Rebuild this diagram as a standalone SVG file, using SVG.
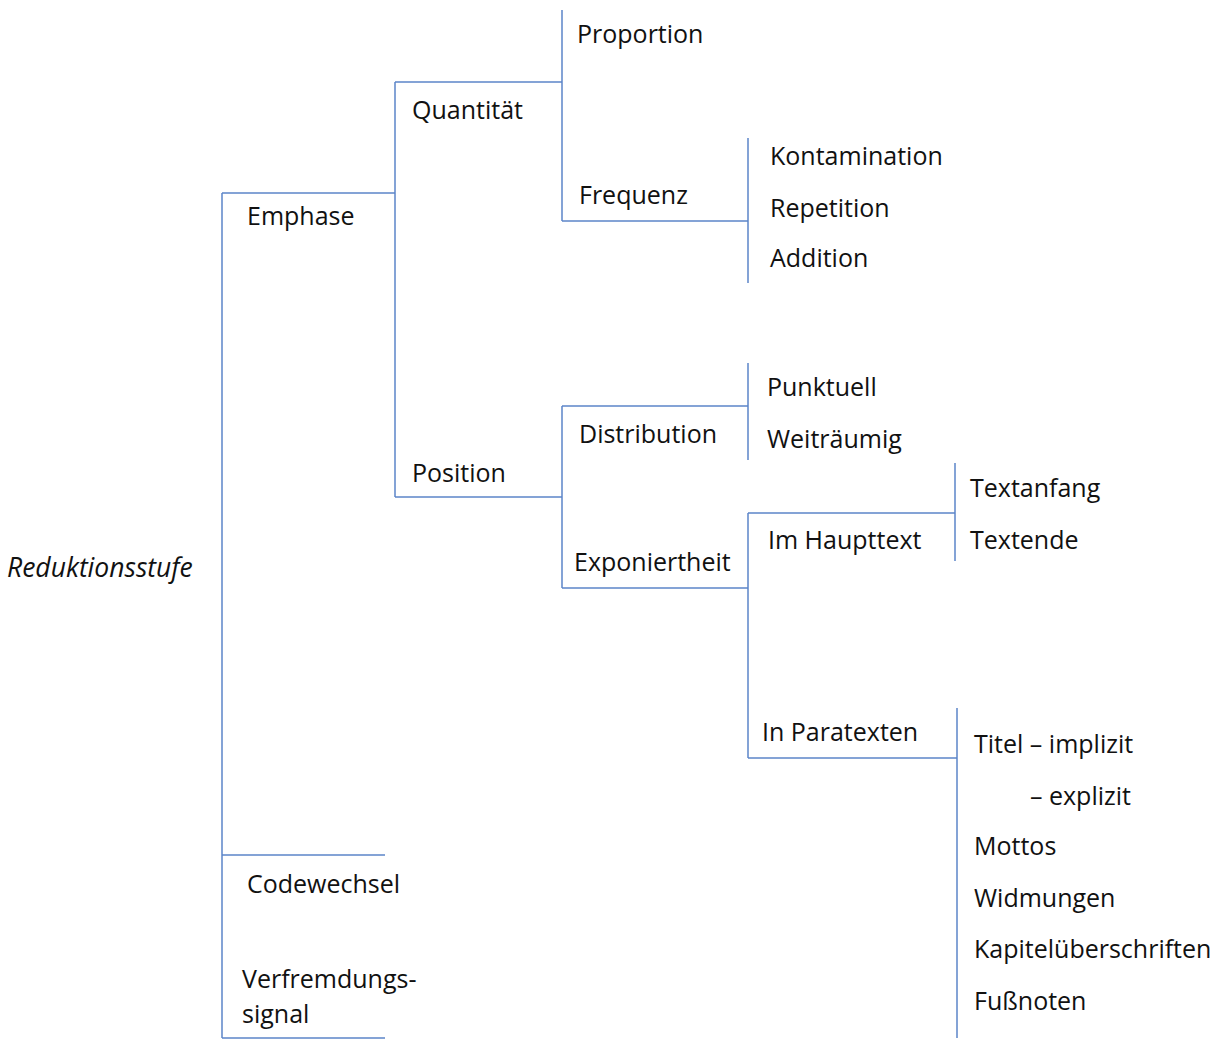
<svg xmlns="http://www.w3.org/2000/svg" width="1225" height="1040" viewBox="0 0 1225 1040">
<style>
text{font-family:"Open Sans","Noto Sans",sans-serif;font-size:25px;fill:#111;font-variant-ligatures:none}
.it{font-style:italic;font-size:26.5px}
#connectors line{stroke:#5b84c8;stroke-width:1.5;fill:none}
</style>
<rect width="1225" height="1040" fill="#fff"/>
<g id="connectors">
<line x1="222" y1="193" x2="222" y2="1038"/>
<line x1="222" y1="193" x2="395" y2="193"/>
<line x1="222" y1="855" x2="385" y2="855"/>
<line x1="222" y1="1038" x2="385" y2="1038"/>
<line x1="395" y1="82" x2="395" y2="497"/>
<line x1="395" y1="82" x2="562" y2="82"/>
<line x1="395" y1="497" x2="562" y2="497"/>
<line x1="562" y1="10" x2="562" y2="221"/>
<line x1="562" y1="221" x2="748" y2="221"/>
<line x1="748" y1="138" x2="748" y2="283"/>
<line x1="562" y1="406" x2="562" y2="588"/>
<line x1="562" y1="406" x2="748" y2="406"/>
<line x1="562" y1="588" x2="748" y2="588"/>
<line x1="748" y1="363" x2="748" y2="460"/>
<line x1="748" y1="513" x2="748" y2="758"/>
<line x1="748" y1="513" x2="955" y2="513"/>
<line x1="748" y1="758" x2="957" y2="758"/>
<line x1="955" y1="463" x2="955" y2="561"/>
<line x1="957" y1="708" x2="957" y2="1038"/>
</g>
<g id="n-root"><text class="it" x="7" y="577">Reduktionsstufe</text></g>
<g id="n-emphase"><text x="247" y="225">Emphase</text></g>
<g id="n-codewechsel"><text x="247" y="893">Codewechsel</text></g>
<g id="n-verfremdung"><text x="242" y="988">Verfremdungs-</text><text x="242" y="1023">signal</text></g>
<g id="n-quantitaet"><text x="412" y="119">Quantität</text></g>
<g id="n-position"><text x="412" y="482">Position</text></g>
<g id="n-proportion"><text x="577" y="43">Proportion</text></g>
<g id="n-frequenz"><text x="579" y="204">Frequenz</text></g>
<g id="n-kontamination"><text x="770" y="165">Kontamination</text></g>
<g id="n-repetition"><text x="770" y="217">Repetition</text></g>
<g id="n-addition"><text x="770" y="267">Addition</text></g>
<g id="n-distribution"><text x="579" y="443">Distribution</text></g>
<g id="n-exponiertheit"><text x="574" y="571">Exponiertheit</text></g>
<g id="n-punktuell"><text x="767" y="396">Punktuell</text></g>
<g id="n-weitraeumig"><text x="767" y="448">Weiträumig</text></g>
<g id="n-haupttext"><text x="768" y="549">Im Haupttext</text></g>
<g id="n-textanfang"><text x="970" y="497">Textanfang</text></g>
<g id="n-textende"><text x="970" y="549">Textende</text></g>
<g id="n-paratexten"><text x="762" y="741">In Paratexten</text></g>
<g id="n-titel"><text x="974" y="753">Titel – implizit</text><text x="1030" y="805">– explizit</text></g>
<g id="n-mottos"><text x="974" y="855">Mottos</text></g>
<g id="n-widmungen"><text x="974" y="907">Widmungen</text></g>
<g id="n-kapitel"><text x="974" y="958">Kapitelüberschriften</text></g>
<g id="n-fussnoten"><text x="974" y="1010">Fußnoten</text></g>
</svg>
